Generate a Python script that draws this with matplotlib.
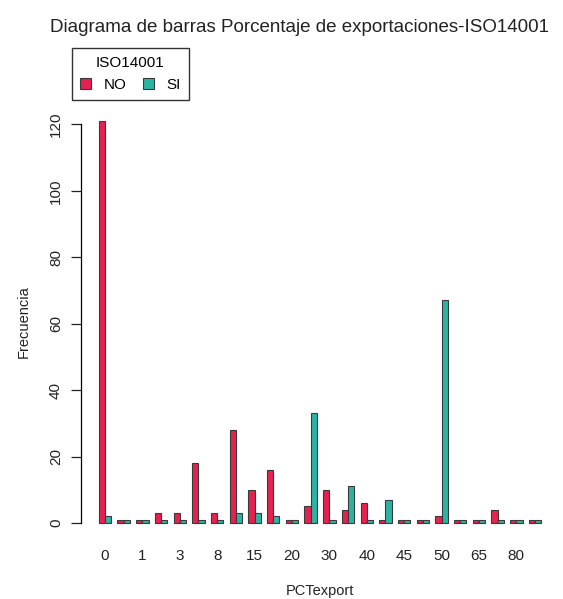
import matplotlib
matplotlib.use("Agg")
import matplotlib.pyplot as plt
import numpy as np

plt.rcParams["font.family"] = ["Liberation Sans", "DejaVu Sans"]

# PCTexport categories (R hides every second label because they overlap)
categories = ["0", "0.5", "1", "2", "3", "5", "8", "10", "15", "18", "20", "25",
              "30", "35", "40", "42", "45", "48", "50", "60", "65", "70", "80", "90"]
freq_no = [121, 1, 1, 3, 3, 18, 3, 28, 10, 16, 1, 5,
           10, 4, 6, 1, 1, 1, 2, 1, 1, 4, 1, 1]
freq_si = [2, 1, 1, 1, 1, 1, 1, 3, 3, 2, 1, 33,
           1, 11, 1, 7, 1, 1, 67, 1, 1, 1, 1, 1]
series_names = ["NO", "SI"]
colors = ["#E8204F", "#2BB3A3"]
yticks = [0, 20, 40, 60, 80, 100, 120]

W, H = 563, 599
fig = plt.figure(figsize=(W / 100, H / 100), dpi=100)
ax = fig.add_axes([81 / W, 1 - 539 / H, (559 - 81) / W, (539 - 105) / H])

# R barplot(beside=TRUE) geometry: bars of width 1, one unit gap between groups
n = len(categories)
left = np.arange(n) * 3 + 1
for k, (vals, col) in enumerate(zip([freq_no, freq_si], colors)):
    ax.bar(left + k, vals, width=1, align="edge", color=col,
           edgecolor="#3a3a3a", linewidth=0.8, label=series_names[k])

centers = left + 1
ymax = max(max(freq_no), max(freq_si))
ax.set_xlim(1 - 0.04 * (3 * n - 1), 3 * n + 0.04 * (3 * n - 1))
ax.set_ylim(-0.04 * ymax, ymax * 1.04)

for s in ["top", "right", "bottom"]:
    ax.spines[s].set_visible(False)
ax.spines["left"].set_bounds(0, 120)
ax.spines["left"].set_linewidth(0.9)
ax.set_yticks(yticks)
ax.set_yticklabels([str(t) for t in yticks], rotation=90, va="center")
ax.tick_params(axis="y", length=7, width=0.9, pad=6, labelsize=11, colors="#222222")
ax.set_xticks(centers[::2])
ax.set_xticklabels(categories[::2])
ax.tick_params(axis="x", length=0, pad=7, labelsize=11, colors="#222222")

ax.set_ylabel("Frecuencia", fontsize=10.5, labelpad=13, color="#222222")
ax.set_xlabel("PCTexport", fontsize=10.5, labelpad=15, color="#222222")
fig.text(300 / W, 1 - 27 / H, "Diagrama de barras Porcentaje de exportaciones-ISO14001",
         ha="center", va="center", fontsize=13.5, color="#222222")

leg = fig.legend(loc="upper left", bbox_to_anchor=(72 / W, 1 - 48 / H), ncol=2,
                 title="ISO14001", fontsize=11, title_fontsize=11, frameon=True,
                 fancybox=False, handlelength=0.7, handleheight=0.7,
                 handletextpad=0.8, columnspacing=1.1, borderpad=0.55,
                 borderaxespad=0)
leg.get_frame().set_edgecolor("black")
leg.get_frame().set_linewidth(1.0)

fig.savefig("out.png", dpi=100)
